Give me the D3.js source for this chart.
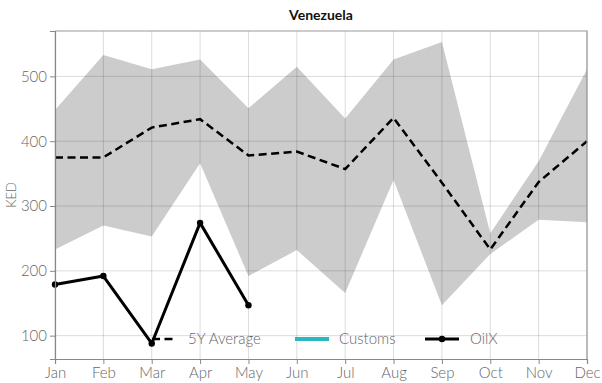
<!DOCTYPE html>
<html>
<head>
<meta charset="utf-8">
<script src="https://cdn.jsdelivr.net/npm/d3@7"></script>
<style>
  html, body { margin: 0; padding: 0; background: #fff; }
  svg { display: block; font-family: Lato, "Open Sans", sans-serif; }
</style>
</head>
<body>
<svg id="chart" width="602" height="383"></svg>
<script>
// Monthly categories
const months = ["Jan","Feb","Mar","Apr","May","Jun","Jul","Aug","Sep","Oct","Nov","Dec"];
// 5-year range (min / max) and average, KED
const rangeMin = [233, 270, 253, 366, 192, 232, 166, 340, 147, 226, 279, 275];
const rangeMax = [448, 533, 511, 526, 451, 515, 435, 526, 553, 258, 369, 511];
const avg5y    = [375, 375, 421, 434, 378, 384, 357, 436, 336, 233, 337, 400];
// OilX estimates (Jan–May)
const oilx     = [179, 192, 88, 274, 147];
// Customs series (no data)
const customs  = [];
const yTicks   = [100, 200, 300, 400, 500];
const legendItems = ["5Y Average", "Customs", "OilX"];

const svg = d3.select("#chart");
const plotL = 55, plotR = 587, plotT = 31, plotB = 359;

const x = d3.scalePoint().domain(months).range([plotL, plotR]).padding(0);
const y = d3.scaleLinear().domain([64, 570]).range([plotB, plotT]);

const gridColor = "rgba(0,0,0,0.14)";
const textColor = "#666";
const labelFont = "15px";

// 5Y range band
const band = months.map((m, i) => ({ m, lo: rangeMin[i], hi: rangeMax[i] }));
svg.append("path").datum(band)
  .attr("fill", "#cccccc")
  .attr("d", d3.area().x(d => x(d.m)).y0(d => y(d.lo)).y1(d => y(d.hi)));

// Grid (drawn over the band)
svg.append("g").selectAll("line").data(months).join("line")
  .attr("x1", d => x(d)).attr("x2", d => x(d))
  .attr("y1", plotT).attr("y2", plotB)
  .attr("stroke", gridColor).attr("stroke-width", 1);
svg.append("g").selectAll("line").data(yTicks).join("line")
  .attr("x1", plotL).attr("x2", plotR)
  .attr("y1", d => y(d)).attr("y2", d => y(d))
  .attr("stroke", gridColor).attr("stroke-width", 1);

// 5Y average
svg.append("path").datum(avg5y)
  .attr("fill", "none").attr("stroke", "#000").attr("stroke-width", 2.5)
  .attr("stroke-dasharray", "8,4.5")
  .attr("d", d3.line().x((d, i) => x(months[i])).y(d => y(d)));

// Customs
if (customs.length) {
  svg.append("path").datum(customs)
    .attr("fill", "none").attr("stroke", "#2bb8c0").attr("stroke-width", 3)
    .attr("d", d3.line().x((d, i) => x(months[i])).y(d => y(d)));
}

// OilX
svg.append("path").datum(oilx)
  .attr("fill", "none").attr("stroke", "#000").attr("stroke-width", 3)
  .attr("stroke-linejoin", "round")
  .attr("d", d3.line().x((d, i) => x(months[i])).y(d => y(d)));
svg.append("g").selectAll("circle").data(oilx).join("circle")
  .attr("cx", (d, i) => x(months[i])).attr("cy", d => y(d))
  .attr("r", 3.2).attr("fill", "#000");

// Axes
const xAxis = svg.append("g").attr("transform", `translate(0,${plotB})`)
  .call(d3.axisBottom(x).tickSize(5).tickPadding(3));
const yAxis = svg.append("g").attr("transform", `translate(${plotL},0)`)
  .call(d3.axisLeft(y).tickValues(yTicks).tickSize(5).tickPadding(3));
[xAxis, yAxis].forEach(g => {
  g.select(".domain").attr("stroke", "#888").attr("stroke-width", 1.2);
  g.selectAll(".tick line").attr("stroke", "#888");
  g.selectAll(".tick text").attr("fill", textColor)
    .style("font-size", labelFont).style("font-weight", "300")
    .style("font-family", "Lato, sans-serif");
});

// Frame top/right
svg.append("path")
  .attr("d", `M${plotL},${plotT}H${plotR}V${plotB}`)
  .attr("fill", "none").attr("stroke", "#999").attr("stroke-width", 1.2);

// Y label
svg.append("text")
  .attr("transform", `translate(16,${(plotT + plotB) / 2}) rotate(-90)`)
  .attr("text-anchor", "middle").attr("fill", textColor)
  .style("font-size", "13px").style("font-weight", "300").text("KED");

// Title
svg.append("text")
  .attr("x", (plotL + plotR) / 2).attr("y", 20)
  .attr("text-anchor", "middle").attr("fill", "#111")
  .style("font-size", "14px").style("font-weight", "bold").text("Venezuela");

// Legend
const legendY = 339;
const lg = svg.append("g");
const legX = [152, 295, 425];
const symbolW = 34;
lg.append("line").attr("x1", legX[0]).attr("x2", legX[0] + 24).attr("y1", legendY).attr("y2", legendY)
  .attr("stroke", "#000").attr("stroke-width", 2.5).attr("stroke-dasharray", "8,4.5");
lg.append("line").attr("x1", legX[1]).attr("x2", legX[1] + symbolW).attr("y1", legendY).attr("y2", legendY)
  .attr("stroke", "#2bb8c0").attr("stroke-width", 4);
lg.append("line").attr("x1", legX[2]).attr("x2", legX[2] + symbolW).attr("y1", legendY).attr("y2", legendY)
  .attr("stroke", "#000").attr("stroke-width", 3);
lg.append("circle").attr("cx", legX[2] + symbolW / 2).attr("cy", legendY).attr("r", 3.2).attr("fill", "#000");
const textX = [188, 339, 470];
lg.selectAll("text").data(legendItems).join("text")
  .attr("x", (d, i) => textX[i]).attr("y", legendY).attr("dy", "0.35em")
  .attr("fill", textColor).style("font-size", labelFont).style("font-weight", "300").text(d => d);
</script>
</body>
</html>
